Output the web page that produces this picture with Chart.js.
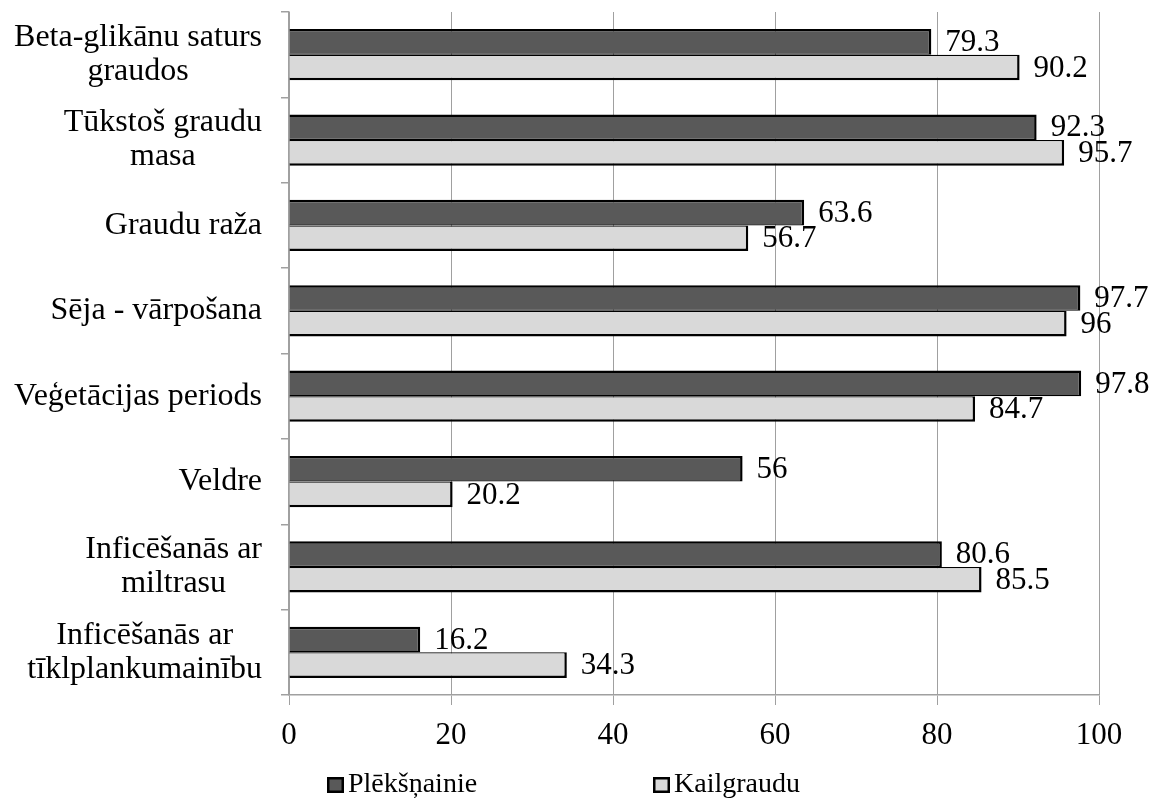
<!DOCTYPE html>
<html>
<head>
<meta charset="utf-8">
<script src="https://cdn.jsdelivr.net/npm/chart.js@4.4.1/dist/chart.umd.min.js"></script>
<style>
  html, body { margin: 0; padding: 0; background: #ffffff; }
  canvas { display: block; }
</style>
</head>
<body>
<canvas id="chart" width="1156" height="800"></canvas>
<script>
// Category labels, one array entry per printed line
const categories = [
  ['Beta-glikānu saturs', 'graudos'],
  ['Tūkstoš graudu', 'masa'],
  ['Graudu raža'],
  ['Sēja - vārpošana'],
  ['Veģetācijas periods'],
  ['Veldre'],
  ['Inficēšanās ar', 'miltrasu'],
  ['Inficēšanās ar', 'tīklplankumainību']
];
const seriesNames = ['Plēkšņainie', 'Kailgraudu'];
const plekshnainie = [79.3, 92.3, 63.6, 97.7, 97.8, 56, 80.6, 16.2];
const kailgraudu = [90.2, 95.7, 56.7, 96, 84.7, 20.2, 85.5, 34.3];
const xTicks = [0, 20, 40, 60, 80, 100];

const FONT = '"Liberation Serif", "Times New Roman", serif';
const seriesColors = ['#595959', '#d9d9d9'];
const gridColor = '#a0a0a0';

// Value labels to the right of each bar. The dark series is written before
// the bars are painted so the light bars sit over any overlapping text.
function drawValueLabels(chart, dsIndex) {
  const ctx = chart.ctx;
  const meta = chart.getDatasetMeta(dsIndex);
  const values = chart.data.datasets[dsIndex].data;
  ctx.save();
  ctx.font = '31px ' + FONT;
  ctx.fillStyle = '#000000';
  ctx.textAlign = 'left';
  ctx.textBaseline = 'middle';
  meta.data.forEach((bar, i) => {
    ctx.fillText(String(values[i]), bar.x + 14, bar.y + 1);
  });
  ctx.restore();
}

const valueLabels = {
  id: 'valueLabels',
  beforeDatasetsDraw(chart) { drawValueLabels(chart, 0); },
  afterDatasetsDraw(chart) { drawValueLabels(chart, 1); }
};

// Category names: each block is right-aligned to the axis, lines centred within it
const categoryLabels = {
  id: 'categoryLabels',
  afterDraw(chart) {
    const ctx = chart.ctx;
    const yScale = chart.scales.y;
    const right = chart.chartArea.left - 27;
    const lineH = 34;
    ctx.save();
    ctx.font = '32px ' + FONT;
    ctx.fillStyle = '#000000';
    ctx.textAlign = 'center';
    ctx.textBaseline = 'middle';
    categories.forEach((lines, i) => {
      const w = Math.max(...lines.map(t => ctx.measureText(t).width));
      const cx = right - w / 2;
      const cy = yScale.getPixelForValue(i);
      lines.forEach((t, k) => {
        ctx.fillText(t, cx, cy + (k - (lines.length - 1) / 2) * lineH);
      });
    });
    ctx.restore();
  }
};

// Legend row under the axis
const legendRow = {
  id: 'legendRow',
  afterDraw(chart) {
    const ctx = chart.ctx;
    const slots = [327, 653];
    const cy = 785;
    ctx.save();
    ctx.font = '28px ' + FONT;
    ctx.textAlign = 'left';
    ctx.textBaseline = 'middle';
    chart.data.datasets.forEach((ds, i) => {
      const x = slots[i];
      ctx.fillStyle = ds.backgroundColor;
      ctx.fillRect(x, cy - 8, 17, 16);
      ctx.lineWidth = 2.5;
      ctx.strokeStyle = '#000000';
      ctx.strokeRect(x + 1.25, cy - 6.75, 14.5, 13.5);
      ctx.fillStyle = '#000000';
      ctx.fillText(ds.label, x + 21, cy);
    });
    ctx.restore();
  }
};

new Chart(document.getElementById('chart'), {
  type: 'bar',
  data: {
    labels: categories.map(l => l.join(' ')),
    datasets: [
      {
        label: seriesNames[0],
        data: plekshnainie,
        backgroundColor: seriesColors[0],
        borderColor: '#000000',
        borderWidth: { top: 2.5, right: 2.5, bottom: 1.25, left: 0 },
        borderSkipped: false,
        categoryPercentage: 0.6,
        barPercentage: 1.0
      },
      {
        label: seriesNames[1],
        data: kailgraudu,
        backgroundColor: seriesColors[1],
        borderColor: '#000000',
        borderWidth: { top: 1.25, right: 2.5, bottom: 2.5, left: 0 },
        borderSkipped: false,
        categoryPercentage: 0.6,
        barPercentage: 1.0
      }
    ]
  },
  options: {
    indexAxis: 'y',
    responsive: false,
    devicePixelRatio: 1,
    animation: false,
    layout: { padding: { top: 12, right: 57, bottom: 0, left: 0 } },
    plugins: {
      legend: { display: false },
      tooltip: { enabled: false }
    },
    scales: {
      x: {
        min: 0,
        max: 100,
        afterBuildTicks: s => { s.ticks = xTicks.map(v => ({ value: v })); },
        afterFit: s => { s.height = 105; },
        grid: { color: gridColor, lineWidth: 1, drawTicks: true, tickLength: 10 },
        border: { color: gridColor, width: 1.5 },
        ticks: { font: { family: FONT, size: 31 }, color: '#000000', padding: 12, maxRotation: 0 }
      },
      y: {
        afterFit: s => { s.width = 289; },
        grid: { drawOnChartArea: false, drawTicks: true, tickLength: 8, color: gridColor, offset: true, lineWidth: 1.5 },
        border: { color: gridColor, width: 1.5 },
        ticks: { display: false }
      }
    }
  },
  plugins: [valueLabels, categoryLabels, legendRow]
});
</script>
</body>
</html>
